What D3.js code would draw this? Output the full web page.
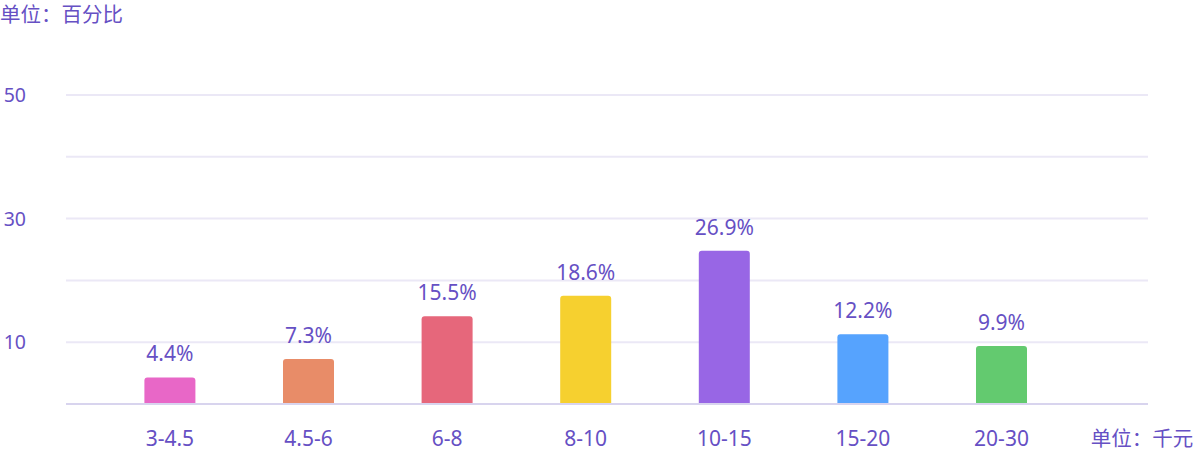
<!DOCTYPE html>
<html><head><meta charset="utf-8">
<script src="https://cdn.jsdelivr.net/npm/d3@7/dist/d3.min.js"></script>
<style>
body{margin:0;background:#fff;}
text{font-family:"Noto Sans","Noto Sans CJK SC",sans-serif;}
</style></head>
<body><svg id="c" width="1196" height="451"></svg>
<script>
const categories = ["3-4.5","4.5-6","6-8","8-10","10-15","15-20","20-30"];
const barValues = [4.3, 7.3, 14.2, 17.5, 24.8, 11.3, 9.4];
const valueLabels = ["4.4%","7.3%","15.5%","18.6%","26.9%","12.2%","9.9%"];
const barColors = ["#e867c7","#e88c68","#e6677b","#f6d02f","#9866e5","#56a3fe","#63ca6f"];
const gridTicks = [0,10,20,30,40,50];
const tickLabels = [10,30,50];
const yUnit = "单位：百分比";
const xUnit = "单位：千元";

const svg = d3.select("#c");
const txt = "#6650c4";
const step = 138.6;
const x = d3.scaleBand().domain(categories).range([100.6, 100.6 + step*7]).paddingInner(0.632).paddingOuter(0.316);
const y = d3.scaleLinear().domain([0,50]).range([404,95]);
const gx0 = 66, gx1 = 1148;

// grid
svg.append("g").selectAll("line").data(gridTicks).join("line")
  .attr("x1",gx0).attr("x2",gx1)
  .attr("y1",d=>y(d)).attr("y2",d=>y(d))
  .attr("stroke",d=>d===0?"#d8d4ee":"#ebe8f6")
  .attr("stroke-width",2);

// y tick labels
svg.append("g").selectAll("text").data(tickLabels).join("text")
  .attr("x",26).attr("y",d=>y(d)+7)
  .attr("text-anchor","end").attr("font-size",19.5).attr("fill",txt)
  .text(d=>d);

// bars with rounded top
const r = 3;
svg.append("g").selectAll("path").data(barValues).join("path")
  .attr("fill",(d,i)=>barColors[i])
  .attr("d",(d,i)=>{
    const x0 = x(categories[i]), w = x.bandwidth(), y0 = y(d), yb = y(0)-1;
    return `M${x0},${yb}V${y0+r}Q${x0},${y0} ${x0+r},${y0}H${x0+w-r}Q${x0+w},${y0} ${x0+w},${y0+r}V${yb}Z`;
  });

// value labels
svg.append("g").selectAll("text").data(barValues).join("text")
  .attr("x",(d,i)=>x(categories[i])+x.bandwidth()/2)
  .attr("y",d=>y(d)-16)
  .attr("text-anchor","middle").attr("font-size",21).attr("fill",txt)
  .text((d,i)=>valueLabels[i]);

// x axis labels
svg.append("g").selectAll("text").data(categories).join("text")
  .attr("x",d=>x(d)+x.bandwidth()/2).attr("y",445.5)
  .attr("text-anchor","middle").attr("font-size",21).attr("fill",txt)
  .text(d=>d);

svg.append("text").attr("x",x.range()[1]+step/2+2).attr("y",445.5)
  .attr("text-anchor","middle").attr("font-size",20.5).attr("fill",txt).text(xUnit);
svg.append("text").attr("x",0).attr("y",21.5)
  .attr("font-size",20.5).attr("fill",txt).text(yUnit);
</script></body></html>
